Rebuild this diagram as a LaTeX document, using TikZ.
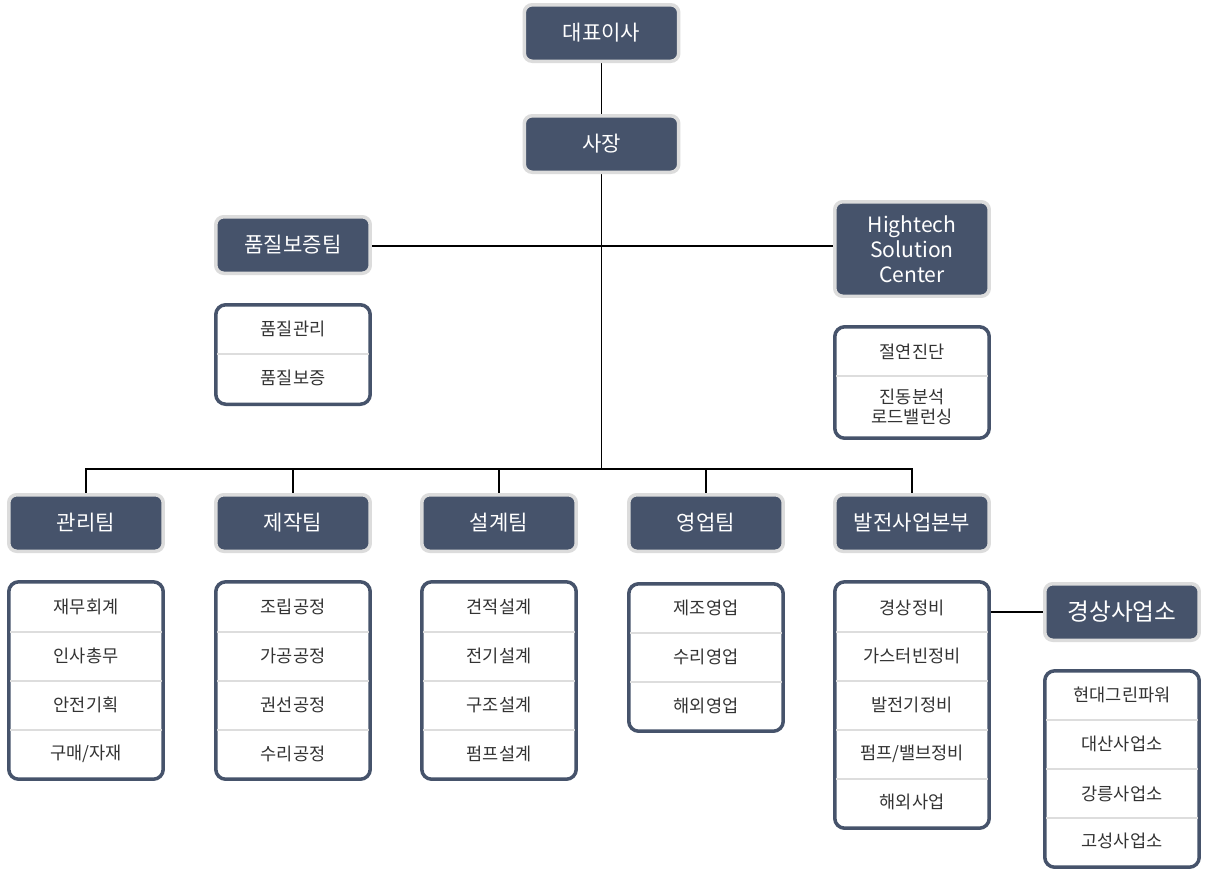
\documentclass[tikz,border=0pt]{standalone}
\usepackage{fontspec}
\setmainfont{Noto Sans CJK KR}
\usepackage{xcolor}
\definecolor{orgNavy}{HTML}{46536B}
\definecolor{orgRim}{HTML}{DCDCDC}
\definecolor{orgRule}{HTML}{DDDDDD}
\definecolor{orgInk}{HTML}{333333}
\usetikzlibrary{backgrounds}

\begin{document}
\begin{tikzpicture}[x=0.02cm, y=-0.02cm,
  head/.style={rectangle, rounded corners=0.16cm, draw=orgRim, line width=0.07cm, fill=orgNavy, text=white,
    minimum width=3.09cm, minimum height=1.13cm, align=center, font=\fontsize{12}{14.2}\selectfont},
  listbox/.style={rectangle, rounded corners=0.2cm, draw=orgNavy, line width=0.07cm, fill=white, minimum width=3.09cm},
  item/.style={text=orgInk, align=center, font=\fontsize{10}{11.5}\selectfont},
  rule/.style={orgRule, line width=0.6pt},
  link/.style={black, line width=0.6pt}]
  \useasboundingbox (0,0) rectangle (1208,877);
  % top of the chart
  \node[head] (board) at (601.5,33) {대표이사};
  \node[head] (ceo) at (601.5,144) {사장};
  \node[head] (qa) at (293,245) {품질보증팀};
  \node[head, minimum height=1.89cm] (hsc) at (912,249) {Hightech\\Solution\\Center};
  \coordinate (hub) at (601.5,469);
  % teams
  \node[head] (mgmt) at (86,523) {관리팀};
  \node[head] (make) at (293,523) {제작팀};
  \node[head] (design) at (499,523) {설계팀};
  \node[head] (sales) at (706,523) {영업팀};
  \node[head] (power) at (912,523) {발전사업본부};
  \node[head, font=\fontsize{13.5}{15}\selectfont] (gs) at (1122,612) {경상사업소};
  % lists
  \node[listbox, minimum height=1.99cm] (qalist) at (293,354.5) {};
  \draw[rule] (217,354) -- (369,354);
  \node[item] (qa1) at (293,329) {품질관리};
  \node[item] (qa2) at (293,378) {품질보증};
  \node[listbox, minimum height=2.23cm] (hsclist) at (912,382.5) {};
  \draw[rule] (836,376) -- (988,376);
  \node[item] (hsc1) at (912,352) {절연진단};
  \node[item] (hsc2) at (912,407) {진동분석\\로드밸런싱};
  \node[listbox, minimum height=3.95cm] (mgmtlist) at (86,680.5) {};
  \draw[rule] (10,632) -- (162,632);
  \draw[rule] (10,681) -- (162,681);
  \draw[rule] (10,730) -- (162,730);
  \node[item] (mgmt1) at (86,607) {재무회계};
  \node[item] (mgmt2) at (86,656) {인사총무};
  \node[item] (mgmt3) at (86,705) {안전기획};
  \node[item] (mgmt4) at (86,754) {구매/자재};
  \node[listbox, minimum height=3.95cm] (makelist) at (293,680.5) {};
  \draw[rule] (217,632) -- (369,632);
  \draw[rule] (217,681) -- (369,681);
  \draw[rule] (217,730) -- (369,730);
  \node[item] (make1) at (293,607) {조립공정};
  \node[item] (make2) at (293,656) {가공공정};
  \node[item] (make3) at (293,705) {권선공정};
  \node[item] (make4) at (293,754) {수리공정};
  \node[listbox, minimum height=3.95cm] (designlist) at (499,680.5) {};
  \draw[rule] (423,632) -- (575,632);
  \draw[rule] (423,681) -- (575,681);
  \draw[rule] (423,730) -- (575,730);
  \node[item] (design1) at (499,607) {견적설계};
  \node[item] (design2) at (499,656) {전기설계};
  \node[item] (design3) at (499,705) {구조설계};
  \node[item] (design4) at (499,754) {펌프설계};
  \node[listbox, minimum height=2.95cm] (saleslist) at (706,657.5) {};
  \draw[rule] (630,633) -- (782,633);
  \draw[rule] (630,682) -- (782,682);
  \node[item] (sales1) at (706,608) {제조영업};
  \node[item] (sales2) at (706,657) {수리영업};
  \node[item] (sales3) at (706,706) {해외영업};
  \node[listbox, minimum height=4.93cm] (powerlist) at (912,705) {};
  \draw[rule] (836,632) -- (988,632);
  \draw[rule] (836,681) -- (988,681);
  \draw[rule] (836,730) -- (988,730);
  \draw[rule] (836,779) -- (988,779);
  \node[item] (power1) at (912,608) {경상정비};
  \node[item] (power2) at (912,656) {가스터빈정비};
  \node[item] (power3) at (912,705) {발전기정비};
  \node[item] (power4) at (912,754) {펌프/밸브정비};
  \node[item] (power5) at (912,802) {해외사업};
  \node[listbox, minimum height=3.93cm] (gslist) at (1122,769) {};
  \draw[rule] (1046,720) -- (1198,720);
  \draw[rule] (1046,769) -- (1198,769);
  \draw[rule] (1046,818) -- (1198,818);
  \node[item] (gs1) at (1122,695) {현대그린파워};
  \node[item] (gs2) at (1122,744) {대산사업소};
  \node[item] (gs3) at (1122,794) {강릉사업소};
  \node[item] (gs4) at (1122,841) {고성사업소};
  % connectors
  \begin{scope}[on background layer]
    \fill[white] (0,0) rectangle (1208,877);
    \draw[link] (board) -- (ceo);
    \draw[link] (ceo) -- (hub);
    \draw[link] (qa.east |- 0,246) -- (hsc.west |- 0,246);
    \draw[link] (hub) -| (mgmt);
    \draw[link] (hub) -| (make);
    \draw[link] (hub) -| (design);
    \draw[link] (hub) -| (sales);
    \draw[link] (hub) -| (power);
    \draw[link] (gs.west) -- (gs.west -| powerlist.east);
  \end{scope}
\end{tikzpicture}
\end{document}
